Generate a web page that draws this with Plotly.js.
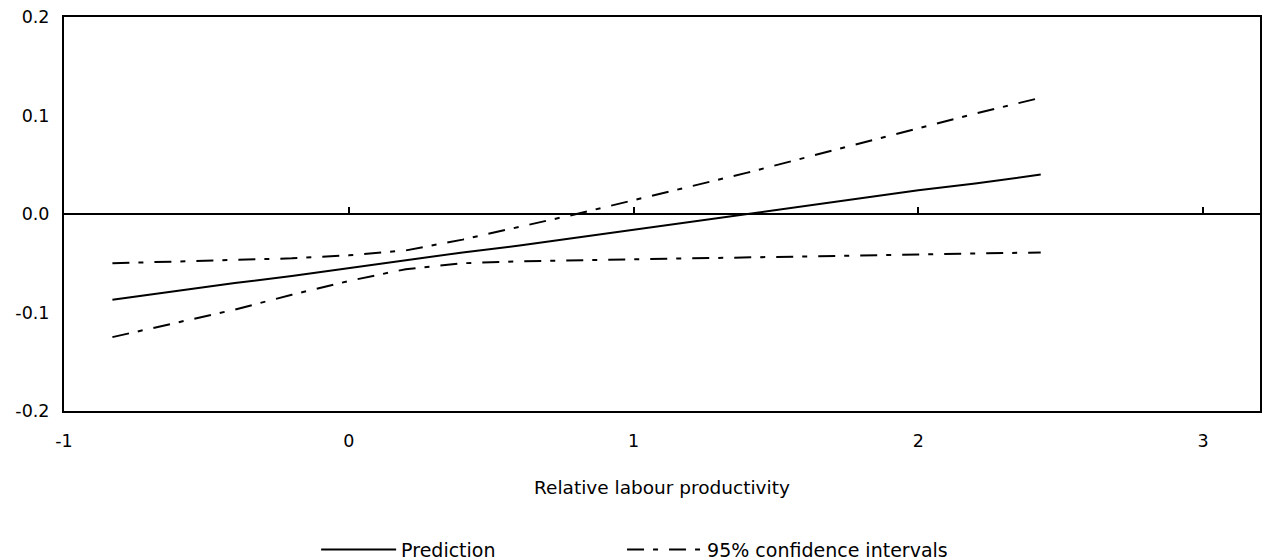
<!DOCTYPE html>
<html>
<head>
<meta charset="utf-8">
<script src="https://cdn.plot.ly/plotly-3.0.1.min.js"></script>
<style>
html,body{margin:0;padding:0;background:#fff;}
#chart{width:1262px;height:560px;}
</style>
</head>
<body>
<div id="chart"></div>
<script>
// Relative labour productivity (x)
const productivity = [-0.83, -0.6, -0.4, -0.2, 0, 0.2, 0.4, 0.6, 0.8, 1.0, 1.2, 1.4, 1.6, 1.8, 2.0, 2.2, 2.43];
// Prediction
const prediction = [-0.087, -0.078, -0.070, -0.063, -0.055, -0.047, -0.039, -0.032, -0.024, -0.016, -0.008, 0.000, 0.008, 0.016, 0.024, 0.031, 0.040];
// 95% confidence interval bounds
const ciUpper = [-0.050, -0.048, -0.0465, -0.045, -0.042, -0.037, -0.026, -0.013, 0.000, 0.014, 0.028, 0.042, 0.057, 0.072, 0.087, 0.102, 0.118];
const ciLower = [-0.125, -0.110, -0.097, -0.082, -0.068, -0.056, -0.050, -0.048, -0.047, -0.046, -0.045, -0.044, -0.043, -0.042, -0.041, -0.040, -0.039];
// Axis ticks
const xTicks = [-1, 0, 1, 2, 3];
const xTickLabels = ['-1', '0', '1', '2', '3'];
const innerXTicks = [0, 1, 2, 3];
const yTicks = [-0.2, -0.1, 0.0, 0.1, 0.2];
const yTickLabels = ['-0.2', '-0.1', '0.0', '0.1', '0.2'];

const seriesNames = ['Prediction', '95% confidence intervals'];
const FONT = 'DejaVu Sans, Liberation Sans, Arial, sans-serif';
const ciDash = '17px,9px,5px,11px';

const traces = [
  {
    x: productivity, y: prediction, type: 'scatter', mode: 'lines',
    name: seriesNames[0], xaxis: 'x2', yaxis: 'y', legend: 'legend',
    line: {color: '#000', width: 2}
  },
  {
    x: productivity, y: ciUpper, type: 'scatter', mode: 'lines',
    name: seriesNames[1], legendgroup: 'ci', legend: 'legend2',
    line: {color: '#000', width: 2, dash: ciDash}
  },
  {
    x: productivity, y: ciLower, type: 'scatter', mode: 'lines',
    name: seriesNames[1], legendgroup: 'ci', showlegend: false, legend: 'legend2',
    line: {color: '#000', width: 2, dash: ciDash}
  }
];

const legendCommon = {
  orientation: 'h', xanchor: 'left', y: -0.352, yanchor: 'middle',
  itemwidth: 75,
  font: {family: FONT, size: 19, color: '#000'},
  bgcolor: 'rgba(0,0,0,0)'
};

const layout = {
  width: 1262, height: 560,
  margin: {l: 64, r: 2, t: 17, b: 149, autoexpand: false},
  paper_bgcolor: '#fff', plot_bgcolor: '#fff',
  font: {family: FONT, size: 17.5, color: '#000'},
  showlegend: true,
  xaxis: {
    range: [-1, 3.2], tickvals: xTicks, ticktext: xTickLabels,
    ticks: '', showgrid: false, zeroline: false, automargin: false,
    showline: true, mirror: true, linecolor: '#000', linewidth: 2,
    ticklabelstandoff: 13,
    tickfont: {family: FONT, size: 17.5, color: '#000'},
    title: {text: 'Relative labour productivity', font: {family: FONT, size: 18.5, color: '#000'}, standoff: 31}
  },
  xaxis2: {
    range: [-1, 3.2], overlaying: 'x', anchor: 'free', position: 0.5, side: 'top',
    tickvals: innerXTicks, ticks: 'outside', ticklen: 7, tickwidth: 2, tickcolor: '#000',
    showticklabels: false, showgrid: false, zeroline: false, showline: false
  },
  yaxis: {
    range: [-0.2, 0.2], tickvals: yTicks, ticktext: yTickLabels,
    ticks: '', showgrid: false, automargin: false,
    zeroline: true, zerolinecolor: '#000', zerolinewidth: 2,
    showline: true, mirror: true, linecolor: '#000', linewidth: 2,
    ticklabelstandoff: 9,
    tickfont: {family: FONT, size: 17.5, color: '#000'}
  },
  legend: Object.assign({}, legendCommon, {x: 0.2108}),
  legend2: Object.assign({}, legendCommon, {x: 0.4666})
};

Plotly.newPlot('chart', traces, layout, {staticPlot: true, displayModeBar: false});
</script>
</body>
</html>
